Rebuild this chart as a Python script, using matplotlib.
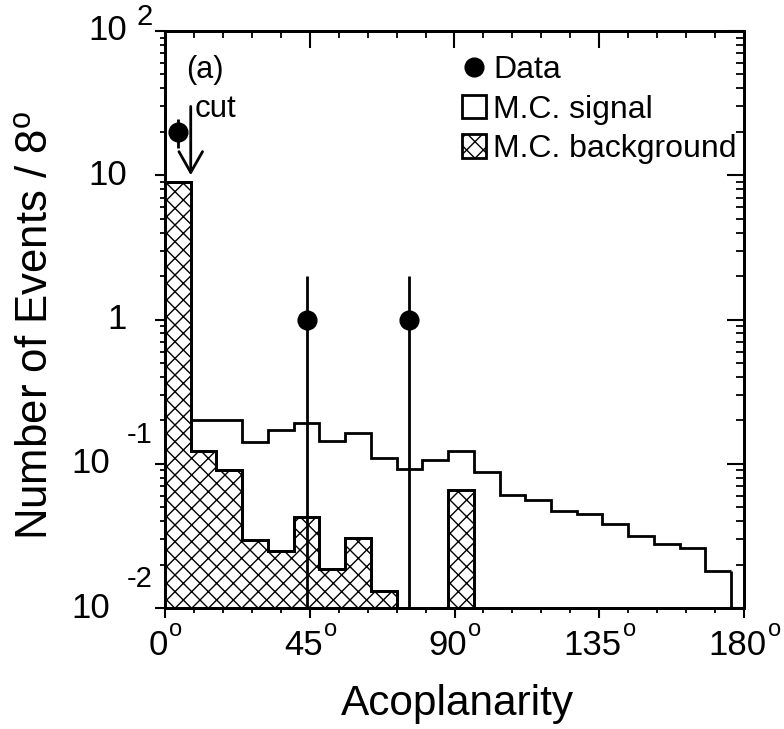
import numpy as np
import matplotlib
matplotlib.use("Agg")
import matplotlib.pyplot as plt
from matplotlib.lines import Line2D
from matplotlib.patches import Patch
from matplotlib.transforms import ScaledTranslation

# ---------------- data ----------------
bin_edges = np.arange(0, 177, 8)  # 0..176, 8 degree bins
sig_edges = bin_edges[1:]          # signal drawn from 8 deg
signal = [0.201, 0.201, 0.141, 0.172, 0.193, 0.144, 0.164, 0.110, 0.0916,
          0.106, 0.123, 0.0879, 0.0609, 0.0565, 0.0473, 0.0449, 0.0383,
          0.0314, 0.0278, 0.0259, 0.0181]
background = [9.0, 0.122, 0.0902, 0.0297, 0.025, 0.0426, 0.0185, 0.0308,
              0.0131, 0.0, 0.0, 0.0662, 0.0, 0.0, 0.0, 0.0, 0.0, 0.0, 0.0,
              0.0, 0.0, 0.0]
data_x = [4, 44, 76]
data_y = [20, 1, 1]
data_err = [4.5, 1, 1]
xtick_vals = [0, 45, 90, 135, 180]
xtick_labels = ["0", "45", "90", "135", "180"]
legend_labels = ["Data", "M.C. signal", "M.C. background"]

plt.rcParams["font.family"] = ["Liberation Sans", "DejaVu Sans"]
plt.rcParams["mathtext.fontset"] = "custom"
plt.rcParams["mathtext.rm"] = "Liberation Sans"
plt.rcParams["mathtext.it"] = "Liberation Sans:italic"
plt.rcParams["mathtext.bf"] = "Liberation Sans:bold"
plt.rcParams["hatch.linewidth"] = 1.0

W, H = 784, 729
fig = plt.figure(figsize=(W / 100, H / 100), dpi=100)
L, R, T, B = 165, 744, 31, 608
ax = fig.add_axes([L / W, 1 - B / H, (R - L) / W, (B - T) / H])
ax.set_yscale("log")
ax.set_xlim(0, 180)
ax.set_ylim(0.01, 100)

LW = 2.0
SW = 1.9
bg = np.asarray(background)
bg_draw = np.where(bg > 0, bg, 1e-3)
ax.stairs(bg_draw, bin_edges, baseline=1e-3, fill=True, facecolor="white",
          edgecolor="black", hatch="xx", linewidth=LW, zorder=2)
ax.stairs(bg_draw, bin_edges, baseline=1e-3, fill=False, color="black",
          linewidth=LW, zorder=3)
ax.stairs(signal, sig_edges, baseline=None, fill=False, color="black",
          linewidth=LW, zorder=3)
ax.vlines(sig_edges[-1], 1e-3, signal[-1], color="black", linewidth=LW, zorder=3)
ax.errorbar(data_x, data_y, yerr=data_err, fmt="o", color="black", ms=13.5,
            elinewidth=LW, capsize=0, zorder=4)

# cut arrow and labels
ax.annotate("", xy=(8, 10), xytext=(8, 30),
            arrowprops=dict(arrowstyle="->,head_length=1.5,head_width=0.85",
                            lw=LW, color="black", shrinkA=0, shrinkB=0,
                            mutation_scale=10), zorder=5)
ax.text(9.3, 25.2, "cut", fontsize=22.5, ha="left", va="baseline")
ax.text(6.5, 54, "(a)", fontsize=22, ha="left", va="center")

# ticks bottom / left (outward)
ax.set_xticks(xtick_vals)
ax.set_xticks(np.arange(0, 181, 9), minor=True)
ax.set_xticklabels([])
ax.set_yticks([0.01, 0.1, 1, 10, 100])
ax.set_yticklabels([])
ax.tick_params(which="major", direction="out", length=7.2, width=1.5, pad=4)
ax.tick_params(which="minor", direction="out", length=3.6, width=1.3)
ax.tick_params(axis="y", which="both", labelleft=False)
for s in ax.spines.values():
    s.set_linewidth(SW)

# top / right (inward)
ax_t = ax.twiny()
ax_t.set_xlim(0, 180)
ax_t.set_xticks(xtick_vals)
ax_t.set_xticks(np.arange(0, 181, 9), minor=True)
ax_t.tick_params(which="major", direction="in", length=12, width=1.5, labeltop=False)
ax_t.tick_params(which="minor", direction="in", length=5, width=1.3)
ax_r = ax.twinx()
ax_r.set_yscale("log")
ax_r.set_ylim(0.01, 100)
ax_r.tick_params(which="major", direction="in", length=12, width=1.5, labelright=False)
ax_r.tick_params(which="minor", direction="in", length=5.5, width=1.3)
for a in (ax_t, ax_r):
    for s in a.spines.values():
        s.set_linewidth(SW)

renderer = fig.canvas.get_renderer()

# x tick labels: number plus raised "o"
xtr = ax.get_xaxis_transform()
for v, lab in zip(xtick_vals, xtick_labels):
    t = ax.text(v, 0, lab, fontsize=25, ha="center", va="baseline", clip_on=False,
                transform=xtr + ScaledTranslation(-6.5 / 100, -47 / 100, fig.dpi_scale_trans))
    bb = t.get_window_extent(renderer)
    fig.text((bb.x1 + 1) / W, (H - 636) / H, "o", fontsize=17, ha="left", va="baseline")

# y tick labels (drawn as text)
ytr = ax.get_yaxis_transform()
def px2ax(px):
    return (px - L) / (R - L)
def up(v, dpx):
    return v * 10 ** (dpx / 144.2)
ylab_fs = 25
exp_fs = 21
ax.text(px2ax(127), 100, "10", transform=ytr, fontsize=ylab_fs, ha="right", va="center", clip_on=False)
ax.text(px2ax(137), up(100, 14), "2", transform=ytr, fontsize=exp_fs, ha="left", va="center", clip_on=False)
ax.text(px2ax(127), 10, "10", transform=ytr, fontsize=ylab_fs, ha="right", va="center")
ax.text(px2ax(127), 1, "1", transform=ytr, fontsize=ylab_fs, ha="right", va="center")
ax.text(px2ax(110), 0.1, "10", transform=ytr, fontsize=ylab_fs, ha="right", va="center")
ax.text(px2ax(127), up(0.1, 29), "-1", transform=ytr, fontsize=exp_fs, ha="left", va="center")
ax.text(px2ax(110), 0.01, "10", transform=ytr, fontsize=ylab_fs, ha="right", va="center", clip_on=False)
ax.text(px2ax(127), up(0.01, 29), "-2", transform=ytr, fontsize=exp_fs, ha="left", va="center")

ax.set_xlabel("Acoplanarity", fontsize=30.5)
ax.xaxis.set_label_coords(0.506, -0.1317)
ax.set_ylabel(r"Number of Events / $\mathregular{8^o}$", fontsize=31.5)
ax.yaxis.set_label_coords(-0.1877, 0.49)

handles = [
    Line2D([], [], marker="o", color="black", linestyle="none", markersize=13.5),
    Patch(facecolor="white", edgecolor="black", linewidth=LW),
    Patch(facecolor="white", edgecolor="black", hatch="xx", linewidth=LW),
]
ax_r.legend(handles, legend_labels, loc="upper left",
            bbox_to_anchor=(px2ax(462), (B - 55) / (B - T)),
            frameon=False, fontsize=23, borderpad=0, borderaxespad=0,
            handlelength=0.75, handleheight=0.75, handletextpad=0.22,
            labelspacing=0.3)

fig.savefig("out.png", dpi=100)
